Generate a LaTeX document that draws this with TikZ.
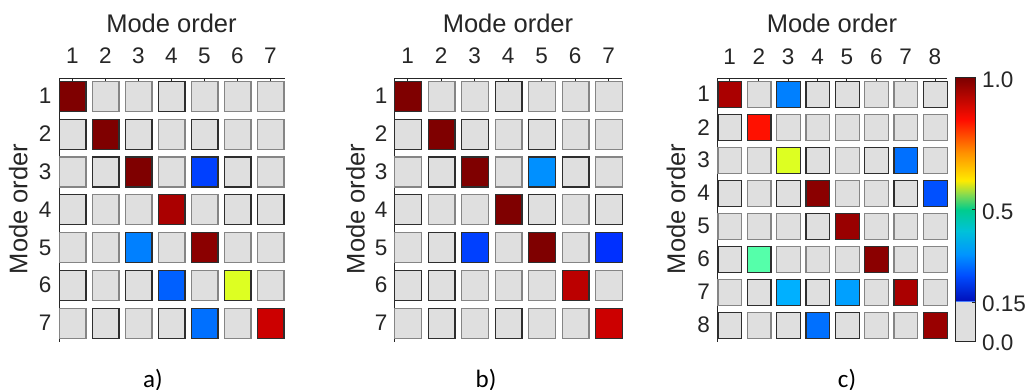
\documentclass[tikz,border=0pt]{standalone}
\usepackage{fontspec}
\setmainfont{Liberation Sans}
\newfontfamily\calib{Carlito}
\definecolor{txt}{HTML}{262626}
\definecolor{gf}{HTML}{DFDFDF}
\definecolor{bD}{HTML}{2E2E2E}
\definecolor{bL}{HTML}{858585}
\definecolor{dr}{HTML}{7F0000}
\definecolor{drr}{HTML}{8B0000}
\definecolor{rA}{HTML}{AA0000}
\definecolor{rB}{HTML}{BB0000}
\definecolor{rC}{HTML}{CC0000}
\definecolor{rN}{HTML}{990000}
\definecolor{rr}{HTML}{FF1100}
\definecolor{bA}{HTML}{0040FF}
\definecolor{bB}{HTML}{0080FF}
\definecolor{bC}{HTML}{0060FF}
\definecolor{bE}{HTML}{0070FF}
\definecolor{bF}{HTML}{0030FF}
\definecolor{bG}{HTML}{0050FF}
\definecolor{az}{HTML}{0090FF}
\definecolor{cy}{HTML}{00B0FF}
\definecolor{cyb}{HTML}{00A0FF}
\definecolor{yl}{HTML}{DDFF22}
\definecolor{mn}{HTML}{55FFAA}
% colorbar stops
\definecolor{s1}{rgb}{0,0.05,0.72}
\definecolor{s2}{rgb}{0,0.30,1}
\definecolor{s3}{rgb}{0,0.58,1}
\definecolor{s4}{rgb}{0,0.76,0.85}
\definecolor{s5}{rgb}{0,0.80,0.55}
\definecolor{s6}{rgb}{0.55,0.86,0.30}
\definecolor{s7}{rgb}{1,0.92,0}
\definecolor{s8}{rgb}{1,0.55,0}
\definecolor{s9}{rgb}{1,0.05,0}
\definecolor{s10}{rgb}{0.48,0,0}
\tikzset{
  ticklab/.style={font=\fontsize{22.5}{26}\selectfont, text=txt, inner sep=0pt},
  axlab/.style={font=\fontsize{25.5}{30}\selectfont, text=txt, inner sep=0pt},
  sublab/.style={font=\calib\fontsize{25}{29}\selectfont, text=black, inner sep=0pt, anchor=base},
  axisline/.style={draw=txt, line width=0.9pt},
  cellline/.style={line width=1.2pt},
}
\begin{document}
\begin{tikzpicture}[x=1pt,y=-1pt]
\fill[white] (0,0) rectangle (1030,389);
\useasboundingbox (0,0) rectangle (1030,389);

% ---------------- panel a ----------------
\draw[axisline] (59,78) -- (284.5,78);
\draw[axisline] (59,78) -- (59,342);
\foreach \j in {1,...,7} {
  \draw[axisline] ({72.5+(\j-1)*33},78) -- ++(0,3.5);
  \node[ticklab] (ax\j) at ({72.5+(\j-1)*33},55.5) {\j};
  \node[ticklab, anchor=east] (ay\j) at (51.6,{96.2+(\j-1)*37.8}) {\j};
}
\foreach \row [count=\i] in {
  {dr/bD, gf/bL, gf/bL, gf/bD, gf/bL, gf/bL, gf/bL},
  {gf/bD, dr/bD, gf/bD, gf/bL, gf/bD, gf/bL, gf/bL},
  {gf/bL, gf/bD, dr/bD, gf/bL, bA/bD, gf/bD, gf/bL},
  {gf/bD, gf/bL, gf/bL, rA/bD, gf/bL, gf/bD, gf/bD},
  {gf/bL, gf/bL, bB/bD, gf/bL, drr/bD, gf/bL, gf/bL},
  {gf/bD, gf/bL, gf/bD, bC/bD, gf/bL, yl/bD, gf/bL},
  {gf/bL, gf/bD, gf/bL, gf/bD, bE/bD, gf/bL, rC/bD}} {
  \foreach \f/\b [count=\j] in \row {
    \draw[cellline, fill=\f, draw=\b] ({59.6+(\j-1)*33},{81.3+(\i-1)*37.8}) rectangle ++(26.4,30);
  }
}
\node[axlab] (ta) at (171.5,23.5) {Mode order};
\node[axlab, rotate=90] (la) at (18.3,209) {Mode order};
\node[sublab] (sa) at (153,387.5) {a)};

% ---------------- panel b ----------------
\draw[axisline] (394,78) -- (622,78);
\draw[axisline] (394,78) -- (394,342);
\foreach \j in {1,...,7} {
  \draw[axisline] ({407.7+(\j-1)*33.5},78) -- ++(0,3.5);
  \node[ticklab] (bx\j) at ({407.7+(\j-1)*33.5},55.5) {\j};
  \node[ticklab, anchor=east] (by\j) at (387.6,{96.2+(\j-1)*37.8}) {\j};
}
\foreach \row [count=\i] in {
  {dr/bD, gf/bL, gf/bL, gf/bD, gf/bL, gf/bL, gf/bL},
  {gf/bD, dr/bD, gf/bD, gf/bL, gf/bD, gf/bL, gf/bL},
  {gf/bL, gf/bD, dr/bD, gf/bL, az/bD, gf/bD, gf/bL},
  {gf/bD, gf/bL, gf/bL, dr/bD, gf/bD, gf/bL, gf/bD},
  {gf/bL, gf/bD, bA/bD, gf/bL, dr/bD, gf/bL, bF/bD},
  {gf/bD, gf/bD, gf/bL, gf/bL, gf/bL, rB/bD, gf/bL},
  {gf/bL, gf/bD, gf/bL, gf/bD, gf/bL, gf/bL, rC/bD}} {
  \foreach \f/\b [count=\j] in \row {
    \draw[cellline, fill=\f, draw=\b] ({394.6+(\j-1)*33.5},{81.3+(\i-1)*37.8}) rectangle ++(26.8,30);
  }
}
\node[axlab] (tb) at (508,23.5) {Mode order};
\node[axlab, rotate=90] (lb) at (355.5,209) {Mode order};
\node[sublab] (sb) at (486,387.5) {b)};

% ---------------- panel c ----------------
\draw[axisline] (717.3,78) -- (947.3,78);
\draw[axisline] (717.3,78) -- (717.3,342);
\foreach \j in {1,...,8} {
  \draw[axisline] ({729.5+(\j-1)*29.35},78) -- ++(0,3.5);
  \node[ticklab] (cx\j) at ({729.5+(\j-1)*29.35},56.5) {\j};
  \node[ticklab, anchor=east] (cy\j) at (710,{94.2+(\j-1)*33}) {\j};
}
\foreach \row [count=\i] in {
  {rA/bD, gf/bL, bB/bD, gf/bD, gf/bD, gf/bL, gf/bL, gf/bD},
  {gf/bD, rr/bD, gf/bL, gf/bL, gf/bL, gf/bL, gf/bL, gf/bL},
  {gf/bL, gf/bL, yl/bD, gf/bD, gf/bL, gf/bD, bE/bD, gf/bL},
  {gf/bD, gf/bL, gf/bD, drr/bD, gf/bL, gf/bL, gf/bD, bG/bD},
  {gf/bL, gf/bL, gf/bL, gf/bD, rN/bD, gf/bL, gf/bL, gf/bL},
  {gf/bD, mn/bD, gf/bL, gf/bL, gf/bL, drr/bD, gf/bL, gf/bL},
  {gf/bL, gf/bD, cy/bD, gf/bD, cyb/bD, gf/bL, rA/bD, gf/bL},
  {gf/bD, gf/bL, gf/bD, bE/bD, gf/bD, gf/bL, gf/bL, rN/bD}} {
  \foreach \f/\b [count=\j] in \row {
    \draw[cellline, fill=\f, draw=\b] ({717.9+(\j-1)*29.35},{81.3+(\i-1)*33}) rectangle ++(23.8,26);
  }
}
\node[axlab] (tc) at (832,23.5) {Mode order};
\node[axlab, rotate=90] (lc) at (676,209) {Mode order};
\node[sublab] (sc) at (847,387.5) {c)};

% ---------------- colorbar ----------------
\foreach \ya/\ca/\yb/\cb in {302.3/s1/275.6/s2, 275.9/s2/254.4/s3, 254.7/s3/230.7/s4,
    231.0/s4/209.5/s5, 209.8/s5/193.6/s6, 193.9/s6/180.4/s7, 180.7/s7/151.3/s8,
    151.6/s8/119.6/s9, 119.9/s9/77.3/s10} {
  \shade[bottom color=\ca, top color=\cb] (955.3,\ya) rectangle (975.3,\yb);
}
\fill[gf] (955.3,302) rectangle (975.3,341.7);
\draw[color={rgb,1:red,0.3;green,0.5;blue,1}, line width=1pt] (955.3,301.6) -- (975.3,301.6);
\draw[axisline] (955.3,77.3) rectangle (975.3,341.7);
\draw[axisline] (975.3,209.5) -- ++(-3,0);
\draw[axisline] (975.3,302) -- ++(-3,0);
\node[ticklab, anchor=west] (k1) at (982,79.5) {1.0};
\node[ticklab, anchor=west] (k2) at (982,211.5) {0.5};
\node[ticklab, anchor=west] (k3) at (982,303.3) {0.15};
\node[ticklab, anchor=west] (k4) at (982,342.7) {0.0};
\end{tikzpicture}
\end{document}
